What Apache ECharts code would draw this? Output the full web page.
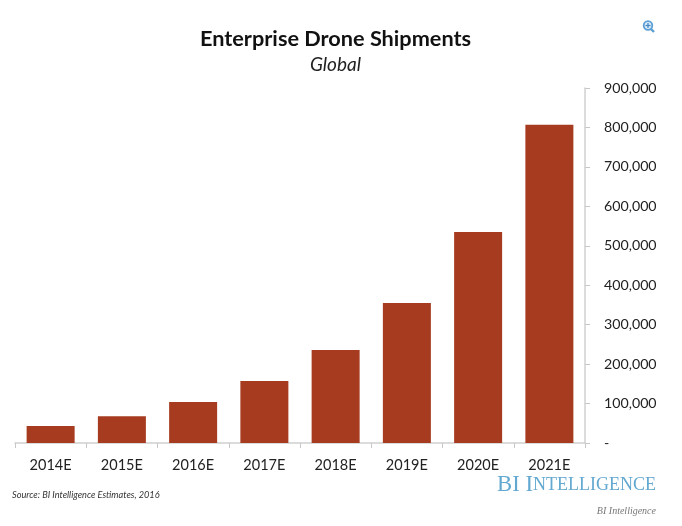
<!DOCTYPE html>
<html><head><meta charset="utf-8">
<style>html,body{margin:0;padding:0;background:#fff}#c{width:682px;height:526px}</style>
<script src="https://cdn.jsdelivr.net/npm/echarts@6/dist/echarts.min.js"></script>
</head><body><div id="c"></div>
<script>
const categories = ['2014E','2015E','2016E','2017E','2018E','2019E','2020E','2021E'];
const shipments = [43000,68000,104000,157000,236000,355000,535000,807000];
const titleText = 'Enterprise Drone Shipments';
const subtitleText = 'Global';
const sourceText = 'Source: BI Intelligence Estimates, 2016';
const creditText = 'BI Intelligence';
const F = 'Lato, "Open Sans", sans-serif';
const chart = echarts.init(document.getElementById('c'), null, {renderer:'canvas'});
chart.setOption({
  animation:false,
  backgroundColor:'#fff',
  title:[
    {text:titleText,left:195,top:23,textStyle:{fontFamily:F,fontSize:21.7,fontWeight:'bold',color:'#111'}},
    {text:subtitleText,left:305,top:50,textStyle:{fontFamily:F,fontSize:19,fontStyle:'italic',fontWeight:'normal',color:'#222'}}
  ],
  grid:{left:15,right:97,top:88,bottom:83,containLabel:false},
  xAxis:{type:'category',data:categories,
    axisLine:{lineStyle:{color:'#d0d0d0',width:1.5}},
    axisTick:{show:true,length:5,alignWithLabel:false,lineStyle:{color:'#c8c8c8'}},
    axisLabel:{fontFamily:F,fontSize:14.5,color:'#222',margin:15}},
  yAxis:{type:'value',position:'right',min:0,max:900000,interval:100000,
    splitLine:{show:false},
    axisLine:{show:true,lineStyle:{color:'#d0d0d0',width:1.5}},
    axisTick:{show:true,length:5,lineStyle:{color:'#c8c8c8'}},
    axisLabel:{fontFamily:F,fontSize:14.2,color:'#222',margin:19,align:'left',lineHeight:18,padding:[3,0,0,0],
      formatter:v=>v===0?'-':v.toLocaleString('en-US')}},
  series:[{type:'bar',data:shipments,barWidth:48,itemStyle:{color:'#a63b1f'}}],
  graphic:[
    {type:'text',left:12,top:491,style:{text:sourceText,fontFamily:F,fontSize:9.2,fontStyle:'italic',fill:'#333'}},
    {type:'text',right:26,top:474,style:{
      text:'{a|BI I}{b|NTELLIGENCE}',
      rich:{a:{fontFamily:'"Liberation Serif",serif',fontSize:22.7,fill:'#62a8d0'},
            b:{fontFamily:'"Liberation Serif",serif',fontSize:18,fill:'#62a8d0'}}}},
    {type:'text',right:26,top:506,style:{text:creditText,fontFamily:'"Liberation Serif",serif',fontSize:10,fontStyle:'italic',fill:'#777'}},
    {type:'circle',shape:{cx:648,cy:25.5,r:4.3},style:{fill:'#d9ebf7',stroke:'#5b9fd4',lineWidth:1.8}},
    {type:'line',shape:{x1:651,y1:29,x2:654,y2:32},style:{stroke:'#5b9fd4',lineWidth:2.4}},
    {type:'line',shape:{x1:645.5,y1:25.5,x2:650.5,y2:25.5},style:{stroke:'#3f86c4',lineWidth:1.2}},
    {type:'line',shape:{x1:648,y1:23,x2:648,y2:28},style:{stroke:'#3f86c4',lineWidth:1.2}}
  ]
});
</script></body></html>
